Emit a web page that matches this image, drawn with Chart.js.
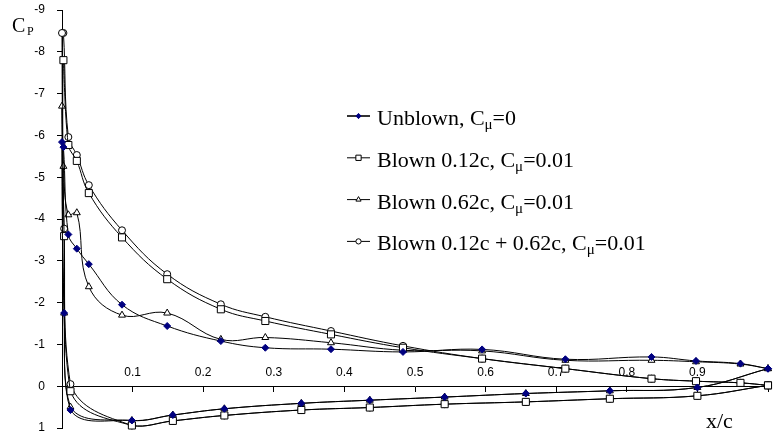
<!DOCTYPE html>
<html>
<head>
<meta charset="utf-8">
<script src="https://cdn.jsdelivr.net/npm/chart.js@4.4.1/dist/chart.umd.min.js"></script>
<style>
  html, body { margin: 0; background: #fff; }
  #wrap { width: 774px; height: 437px; }
</style>
</head>
<body>
<div id="wrap"><canvas id="cp-chart"></canvas></div>
<script>
// Pressure coefficient along the chord, trailing edge -> upper surface -> leading edge -> lower surface -> trailing edge
const upperX = [1.0, 0.961, 0.898, 0.835, 0.713, 0.595, 0.483, 0.381, 0.288, 0.225, 0.149, 0.085, 0.038, 0.021, 0.009, 0.002, 0.0];
const lowerX = [0.003, 0.012, 0.099, 0.157, 0.23, 0.339, 0.436, 0.542, 0.657, 0.776, 0.9, 1.0];

const unblownUpper = [-0.42, -0.54, -0.605, -0.70, -0.645, -0.88, -0.82, -0.885, -0.92, -1.08, -1.44, -1.95, -2.92, -3.29, -3.63, -5.72, -5.84];
const unblownLower = [-1.75, 0.57, 0.82, 0.69, 0.54, 0.41, 0.335, 0.26, 0.175, 0.11, 0.03, -0.42];

// no reading at the leading edge point for this one
const blown12Upper = [-0.02, -0.08, -0.12, -0.18, -0.42, -0.66, -0.92, -1.24, -1.56, -1.84, -2.56, -3.56, -4.62, -5.39, -5.77, -7.8];
const blown12Lower = [-3.59, 0.12, 0.94, 0.83, 0.70, 0.57, 0.51, 0.43, 0.375, 0.30, 0.23, -0.02];

const blown62Upper = [-0.42, -0.53, -0.585, -0.62, -0.62, -0.845, -0.86, -1.04, -1.165, -1.12, -1.75, -1.70, -2.38, -4.15, -4.10, -5.26, -6.7];
const blown62Lower = [-1.75, 0.5, 0.82, 0.69, 0.54, 0.41, 0.335, 0.26, 0.175, 0.11, 0.03, -0.42];

const blownBothUpper = [-0.02, -0.08, -0.12, -0.18, -0.42, -0.66, -0.965, -1.32, -1.66, -1.96, -2.68, -3.73, -4.81, -5.53, -5.96, -8.45, -8.45];
const blownBothLower = [-3.77, -0.05, 0.94, 0.83, 0.70, 0.57, 0.51, 0.43, 0.375, 0.30, 0.23, -0.02];

const seriesNames = [
    "Unblown, Cμ=0",
    "Blown 0.12c, Cμ=0.01",
    "Blown 0.62c, Cμ=0.01",
    "Blown 0.12c + 0.62c, Cμ=0.01",
];

const yTicks = [-9, -8, -7, -6, -5, -4, -3, -2, -1, 0, 1];

const toPoints = (upper, lower) => [
    ...upper.map((cp, i) => ({ x: upperX[i], y: cp })),
    ...lower.map((cp, i) => ({ x: lowerX[i], y: cp })),
];

const serif = "'Liberation Serif', 'Times New Roman', serif";
const sans = "'Liberation Sans', Arial, sans-serif";

const makeSeries = (label, data, style, radius, fill, border) => ({
    label,
    data,
    showLine: true,
    tension: 0.4,
    borderColor: "#000",
    borderWidth: 1,
    pointStyle: style,
    pointRadius: radius,
    pointBackgroundColor: fill,
    pointBorderColor: border,
    pointBorderWidth: 1,
    clip: false,
});

// legend drawn by hand so the mu can sit as a subscript
const cpLegend = {
    id: "cpLegend",
    afterDraw(chart) {
        const ctx = chart.ctx;
        ctx.save();
        chart.data.datasets.forEach((ds, i) => {
            const y = 116 + i * 41.8;
            ctx.strokeStyle = "#000";
            ctx.lineWidth = i === 0 ? 1.6 : 1;
            ctx.beginPath();
            ctx.moveTo(347, y);
            ctx.lineTo(370, y);
            ctx.stroke();
            ctx.lineWidth = 1;
            ctx.fillStyle = ds.pointBackgroundColor;
            ctx.strokeStyle = ds.pointBorderColor;
            Chart.helpers.drawPoint(ctx, {
                pointStyle: ds.pointStyle,
                radius: ds.pointRadius * 0.75,
                borderWidth: 1,
                rotation: 0,
            }, 358.5, y);

            const [before, after] = ds.label.split("μ");
            let x = 377;
            const base = y + 9;
            ctx.fillStyle = "#000";
            ctx.textBaseline = "alphabetic";
            ctx.textAlign = "left";
            ctx.font = "22px " + serif;
            ctx.fillText(before, x, base);
            x += ctx.measureText(before).width;
            ctx.font = "15px " + serif;
            ctx.fillText("μ", x, base + 4);
            x += ctx.measureText("μ").width;
            ctx.font = "22px " + serif;
            ctx.fillText(after, x, base);
        });

        // axis names
        ctx.fillStyle = "#000";
        ctx.font = "20px " + serif;
        ctx.fillText("C", 12, 32);
        ctx.font = "12px " + serif;
        ctx.fillText("P", 27, 35);
        ctx.font = "22px " + serif;
        ctx.fillText("x/c", 706, 428);
        ctx.restore();
    },
};

const ctx = document.getElementById("cp-chart").getContext("2d");
const chart = new Chart(ctx, {
    type: "scatter",
    data: {
        datasets: [
            makeSeries(seriesNames[0], toPoints(unblownUpper, unblownLower), "rectRot", 3.5, "#000080", "#000080"),
            makeSeries(seriesNames[1], toPoints(blown12Upper, blown12Lower), "rect", 5, "#fff", "#000"),
            makeSeries(seriesNames[2], toPoints(blown62Upper, blown62Lower), "triangle", 4, "#fff", "#000"),
            makeSeries(seriesNames[3], toPoints(blownBothUpper, blownBothLower), "circle", 3.5, "#fff", "#000"),
        ],
    },
    options: {
        responsive: true,
        maintainAspectRatio: false,
        animation: false,
        events: [],
        layout: {
            padding: { top: 10, bottom: 9, left: 0, right: 4 },
        },
        scales: {
            x: {
                type: "linear",
                min: 0,
                max: 1,
                position: { y: 0 },
                grid: { drawOnChartArea: false, tickLength: 5, color: "#000" },
                border: { color: "#000", width: 1 },
                afterFit: (scale) => {
                    scale.paddingLeft = 0;
                    scale.paddingRight = 0;
                },
                ticks: {
                    stepSize: 0.1,
                    padding: -26,
                    color: "#000",
                    font: { family: sans, size: 12 },
                    maxRotation: 0,
                    callback: (v) => (v > 0.001 && v < 0.999 ? Math.round(v * 10) / 10 : ""),
                },
            },
            y: {
                type: "linear",
                reverse: true,
                min: yTicks[0],
                max: yTicks[yTicks.length - 1],
                afterBuildTicks: (scale) => {
                    scale.ticks = yTicks.map((v) => ({ value: v }));
                },
                afterFit: (scale) => {
                    scale.width = 62;
                    scale.paddingTop = 0;
                    scale.paddingBottom = 0;
                },
                grid: { drawOnChartArea: false, tickLength: 5, color: "#000" },
                border: { color: "#000", width: 1 },
                ticks: {
                    padding: 12,
                    color: "#000",
                    font: { family: sans, size: 12 },
                },
            },
        },
        plugins: {
            legend: { display: false },
            tooltip: { enabled: false },
        },
    },
    plugins: [cpLegend],
});
</script>
</body>
</html>
